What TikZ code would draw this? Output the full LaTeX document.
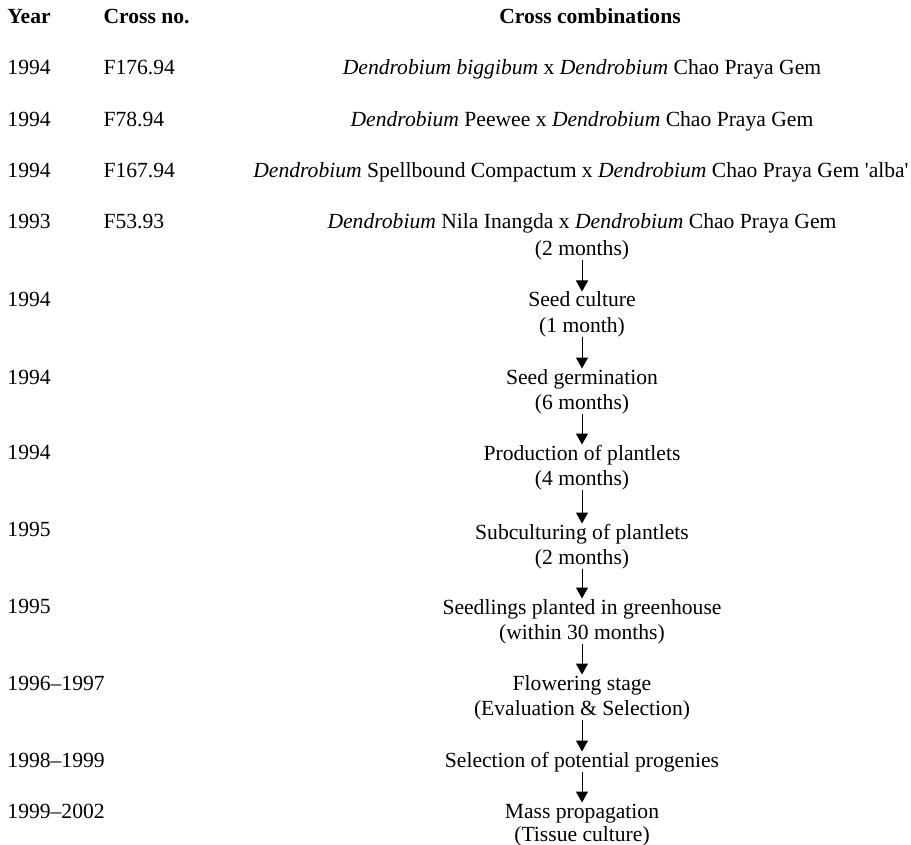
\documentclass[tikz,border=0pt]{standalone}
\usepackage{fontspec}
\setmainfont{Liberation Serif}
\usetikzlibrary{arrows.meta}
\usetikzlibrary{positioning}

\begin{document}
\begin{tikzpicture}[x=1pt,y=-1pt,->,>={Triangle[width=12pt,length=11pt]},line width=1pt,
            every node/.style={font=\fontsize{21.6pt}{25pt}\selectfont,inner sep=0pt,text height=15pt,text depth=4pt},
            head node/.style={font=\fontsize{21.6pt}{25pt}\selectfont\bfseries,anchor=base west},
            year node/.style={anchor=base west},
            step node/.style={anchor=base}
            ]
            \useasboundingbox (0,0) rectangle (911,845);

            % header
            \node[head node](hyear) at (7,24){Year};
            \node[head node](hcross) at (103,24){Cross no.};
            \node[head node,anchor=base](hcomb) at (590,24){Cross combinations};

            % crosses
            \node[year node](y1) at (7,75){1994};
            \node[year node](y2) at (7,127){1994};
            \node[year node](y3) at (7,178){1994};
            \node[year node](y4) at (7,229){1993};
            \node[year node](n1) at (103,75){F176.94};
            \node[year node](n2) at (103,127){F78.94};
            \node[year node](n3) at (103,178){F167.94};
            \node[year node](n4) at (103,229){F53.93};
            \node[step node](x1) at (582,75){\textit{Dendrobium biggibum} x \textit{Dendrobium} Chao Praya Gem};
            \node[step node](x2) at (582,127){\textit{Dendrobium} Peewee x \textit{Dendrobium} Chao Praya Gem};
            \node[step node](x3) at (581,178){\textit{Dendrobium} Spellbound Compactum x \textit{Dendrobium} Chao Praya Gem \textquotesingle alba\textquotesingle};
            \node[step node](x4) at (582,229){\textit{Dendrobium} Nila Inangda x \textit{Dendrobium} Chao Praya Gem};
            \node[step node](x4d) at (582,256){(2 months)};

            % years of the stages
            \node[year node](y5) at (7,306){1994};
            \node[year node](y6) at (7,384){1994};
            \node[year node](y7) at (7,459){1994};
            \node[year node](y8) at (7,536){1995};
            \node[year node](y9) at (7,613){1995};
            \node[year node](y10) at (7,690){1996--1997};
            \node[year node](y11) at (7,767){1998--1999};
            \node[year node](y12) at (7,818){1999--2002};

            % stages
            \node[step node](cult) at (582,307){Seed culture};
            \node[step node](cultd) at (582,332){(1 month)};
            \node[step node](germ) at (582,384){Seed germination};
            \node[step node](germd) at (582,409){(6 months)};
            \node[step node](prod) at (582,460){Production of plantlets};
            \node[step node](prodd) at (582,485){(4 months)};
            \node[step node](sub) at (582,539){Subculturing of plantlets};
            \node[step node](subd) at (582,564){(2 months)};
            \node[step node](seedl) at (582,614){Seedlings planted in greenhouse};
            \node[step node](seedld) at (582,639){(within 30 months)};
            \node[step node](flow) at (582,690){Flowering stage};
            \node[step node](flowd) at (582,715){(Evaluation \& Selection)};
            \node[step node](sel) at (582,767){Selection of potential progenies};
            \node[step node](mass) at (582,818){Mass propagation};
            \node[step node](massd) at (582,841){(Tissue culture)};

            \path
            (x4d) edge (cult)
            (cultd) edge (germ)
            (germd) edge (prod)
            (prodd) edge (sub)
            (subd) edge (seedl)
            (seedld) edge (flow)
            (flowd) edge (sel)
            (sel) edge (mass);

        \end{tikzpicture}
\end{document}
